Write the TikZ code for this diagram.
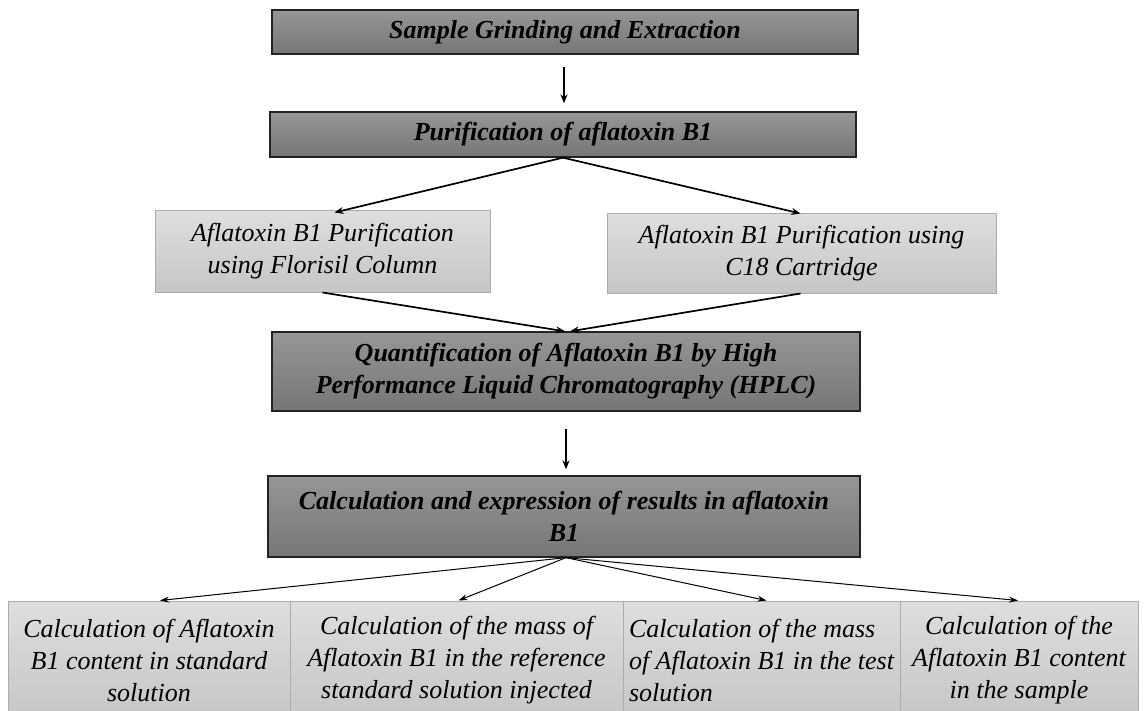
\documentclass[tikz,border=0pt]{standalone}
\usepackage{fontspec}
\setmainfont{Liberation Serif}
\usetikzlibrary{arrows.meta}
\definecolor{darktop}{RGB}{150,150,150}
\definecolor{darkbot}{RGB}{118,118,118}
\definecolor{darkline}{RGB}{35,35,35}
\definecolor{lighttop}{RGB}{222,222,222}
\definecolor{lightbot}{RGB}{198,198,198}
\definecolor{lightline}{RGB}{172,172,172}
\tikzset{
  darkbox/.style={draw=darkline, line width=1.3pt, top color=darktop, bottom color=darkbot,
    inner sep=0pt, align=center, font=\fontsize{26}{32}\selectfont\bfseries\itshape},
  lightbox/.style={draw=lightline, line width=1pt, top color=lighttop, bottom color=lightbot,
    inner sep=0pt, align=center, font=\fontsize{26}{32}\selectfont\itshape},
  flowarrow/.style={line width=1.7pt, -{Stealth[length=9pt,width=7pt]}},
  thinarrow/.style={line width=1pt, -{Stealth[length=9pt,width=6pt]}}
}
\begin{document}
\begin{tikzpicture}[x=1pt,y=-1pt]
\clip (0,0) rectangle (1145,711);
\fill[white] (0,0) rectangle (1145,711);
% main boxes
\node[darkbox, minimum width=586pt, minimum height=44pt] (b1) at (565,32) {Sample Grinding and Extraction};
\node[darkbox, minimum width=586pt, minimum height=45pt] (b2) at (563,134.5) {Purification of aflatoxin B1};
\node[lightbox, minimum width=335pt, minimum height=81pt] (b3) at (322.5,251.5) {Aflatoxin B1 Purification\\using Florisil Column};
\node[lightbox, minimum width=389pt, minimum height=79pt] (b4) at (801.5,253.5) {Aflatoxin B1 Purification using\\C18 Cartridge};
\node[darkbox, minimum width=588pt, minimum height=79pt] (b5) at (566,371.5) {Quantification of Aflatoxin B1 by High\\Performance Liquid Chromatography (HPLC)};
\node[darkbox, minimum width=592pt, minimum height=81pt] (b6) at (564,516.5) {Calculation and expression of results in aflatoxin\\B1};
% bottom boxes
\node[lightbox, minimum width=282pt, minimum height=118pt] (c1) at (149,660) {Calculation of Aflatoxin\\B1 content in standard\\solution};
\node[lightbox, minimum width=333pt, minimum height=118pt] (c2) at (456.5,660) {Calculation of the mass of\\Aflatoxin B1 in the reference\\standard solution injected};
\node[lightbox, minimum width=277pt, minimum height=118pt, align=left] (c3) at (761.5,660) {Calculation of the mass\\of Aflatoxin B1 in the test\\solution};
\node[lightbox, minimum width=238pt, minimum height=118pt] (c4) at (1019,660) {Calculation of the\\Aflatoxin B1 content\\in the sample};
% arrows
\draw[flowarrow, shorten <=12pt, shorten >=8pt] (b1.south -| 564,0) -- (b2.north -| 564,0);
\draw[flowarrow] (b2.south) -- ([xshift=12pt,yshift=-2pt]b3.north);
\draw[flowarrow] (b2.south) -- ([xshift=-1pt]b4.north);
\draw[flowarrow] (b3.south) -- ([xshift=-1pt]b5.north);
\draw[flowarrow] ([xshift=-1pt]b4.south) -- ([xshift=4pt]b5.north);
\draw[flowarrow, shorten <=17pt, shorten >=6pt] (b5.south -| 566,0) -- (b6.north -| 566,0);
\draw[thinarrow] ([xshift=2pt]b6.south) -- ([xshift=11pt]c1.north);
\draw[thinarrow] ([xshift=2pt]b6.south) -- ([xshift=2pt]c2.north);
\draw[thinarrow] ([xshift=2pt]b6.south) -- ([xshift=5pt]c3.north);
\draw[thinarrow] ([xshift=2pt]b6.south) -- ([xshift=-1pt]c4.north);
\end{tikzpicture}
\end{document}
